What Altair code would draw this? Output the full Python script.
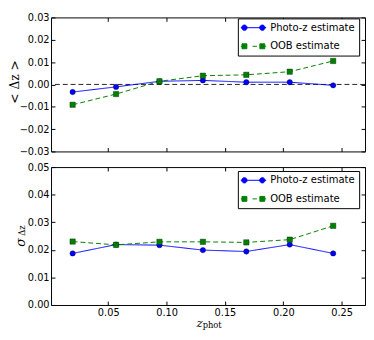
import altair as alt
import pandas as pd

# ---------------- data ----------------
z_phot = [0.0195, 0.0567, 0.0939, 0.1311, 0.1683, 0.2055, 0.2427]
series_names = ["Photo-z estimate", "OOB estimate"]
mean_photoz = [-0.0034, -0.0011, 0.0014, 0.0018, 0.0010, 0.0010, -0.0004]
mean_oob = [-0.0091, -0.0043, 0.0014, 0.0039, 0.0043, 0.0057, 0.0105]
sigma_photoz = [0.0187, 0.0219, 0.0217, 0.0199, 0.0194, 0.0219, 0.0187]
sigma_oob = [0.0230, 0.0218, 0.0229, 0.0229, 0.0227, 0.0237, 0.0287]
zero_level = [0.0]
x_ticks = [0.05, 0.10, 0.15, 0.20, 0.25]
mean_ticks = [-0.03, -0.02, -0.01, 0.0, 0.01, 0.02, 0.03]
sigma_ticks = [0.0, 0.01, 0.02, 0.03, 0.04, 0.05]
series_colors = ["#0000ff", "#008000"]

X_DOMAIN = [0.001, 0.27]
W = 321

# legend symbols: line with two markers (symbol scale = sqrt(100)/2 = 5 px/unit)
def circ(cx, r):
    return f"M{cx - r:.2f},0A{r:.2f},{r:.2f} 0 1,0 {cx + r:.2f},0A{r:.2f},{r:.2f} 0 1,0 {cx - r:.2f},0Z"

def sq(cx, r):
    return f"M{cx - r:.2f},{-r:.2f}H{cx + r:.2f}V{r:.2f}H{cx - r:.2f}Z"

def seg(a, b):
    return f"M{a:.2f},0H{b:.2f}"

PATH_PHOTO = seg(-1.3, 3.9) + circ(-0.56, 0.54) + circ(3.1, 0.54)
PATH_OOB = seg(-1.3, -0.1) + seg(1.1, 2.0) + seg(3.1, 3.9) + sq(-0.56, 0.5) + sq(3.1, 0.5)


def long_frame(a, b):
    rows = []
    for name, vals in zip(series_names, [a, b]):
        for z, v in zip(z_phot, vals):
            rows.append({"z": z, "value": v, "series": name})
    return pd.DataFrame(rows)


def panel(df, ydom, yticks, height, show_xlabels, legend_y, extras):
    xs = alt.Scale(domain=X_DOMAIN, nice=False, zero=False)
    ys = alt.Scale(domain=ydom, nice=False, zero=False)
    x_axis = alt.Axis(values=x_ticks, format=".2f", labels=show_xlabels, title=None,
                      offset=-4, tickSize=4, domain=False, grid=False, labelPadding=3)
    y_axis = alt.Axis(values=yticks, format=".2f", title=None, offset=-4, tickSize=4,
                      domain=False, grid=False, labelPadding=2)
    X = alt.X("z:Q", scale=xs, axis=x_axis)
    Y = alt.Y("value:Q", scale=ys, axis=y_axis)
    color = alt.Color("series:N", scale=alt.Scale(domain=series_names, range=series_colors),
                      legend=None)
    base = alt.Chart(df)
    lines = base.mark_line(strokeWidth=1).encode(
        x=X, y=Y, color=color,
        strokeDash=alt.StrokeDash("series:N",
                                  scale=alt.Scale(domain=series_names, range=[[1, 0], [5, 3]]),
                                  legend=None),
    )
    circles = base.transform_filter(alt.datum.series == series_names[0]).mark_point(
        shape="circle", filled=True, size=30, stroke="#000033", strokeWidth=0.4, opacity=1
    ).encode(x=X, y=Y, color=color)
    squares = base.transform_filter(alt.datum.series == series_names[1]).mark_point(
        shape="square", filled=True, size=30, stroke="#002200", strokeWidth=0.4, opacity=1
    ).encode(x=X, y=Y, color=color)

    leg = alt.Legend(title=None, orient="none", legendX=191, legendY=legend_y,
                     fillColor="white", strokeColor="black", padding=4, symbolSize=100,
                     labelOffset=18, rowPadding=8, labelFont="DejaVu Sans",
                     labelFontSize=10.2, labelColor="black", symbolStrokeWidth=1,
                     symbolOpacity=1)
    legend_layer = base.mark_point(filled=True, size=0, strokeWidth=1, opacity=1).encode(
        fill=alt.Fill("series:N", scale=alt.Scale(domain=series_names, range=series_colors), legend=leg),
        stroke=alt.Stroke("series:N", scale=alt.Scale(domain=series_names, range=series_colors), legend=leg),
        shape=alt.Shape("series:N", scale=alt.Scale(domain=series_names, range=[PATH_PHOTO, PATH_OOB]), legend=leg),
    )

    frame = base.mark_point(size=0, opacity=0).encode(
        x=alt.X("z:Q", scale=xs, axis=alt.Axis(orient="top", values=x_ticks, labels=False, title=None,
                                              offset=-4, tickSize=4, domain=False, grid=False)),
        y=alt.Y("value:Q", scale=ys, axis=alt.Axis(orient="right", values=yticks, labels=False, title=None,
                                                  offset=-4, tickSize=4, domain=False, grid=False)),
    )

    data_layer = alt.layer(*extras, lines, circles, squares)
    return alt.layer(data_layer, frame, legend_layer).resolve_axis(
        x="independent", y="independent"
    ).properties(width=W, height=height)


mean_df = long_frame(mean_photoz, mean_oob)
sigma_df = long_frame(sigma_photoz, sigma_oob)

zero_rule = alt.Chart(pd.DataFrame({"y0": zero_level})).mark_rule(
    color="#222222", strokeWidth=1, strokeDash=[5, 3]
).encode(y=alt.Y("y0:Q", scale=alt.Scale(domain=[-0.03, 0.03], nice=False, zero=False),
                 axis=alt.Axis(values=mean_ticks, format=".2f", title=None, offset=-4, tickSize=4,
                               domain=False, grid=False, labelPadding=2)))

top_title = alt.Chart(pd.DataFrame({"t": ["< Δz >"]})).mark_text(
    font="DejaVu Serif", fontSize=12.5, angle=270, align="center", baseline="middle", color="black"
).encode(x=alt.value(-37), y=alt.value(66), text="t:N")

sig_main = alt.Chart(pd.DataFrame({"t": ["σ"]})).mark_text(
    font="DejaVu Serif", fontSize=13, fontStyle="italic", angle=270, align="center",
    baseline="middle", color="black"
).encode(x=alt.value(-31), y=alt.value(77), text="t:N")
sig_sub = alt.Chart(pd.DataFrame({"t": ["Δz"]})).mark_text(
    font="DejaVu Serif", fontSize=8.5, angle=270, align="center", baseline="middle", color="black"
).encode(x=alt.value(-30), y=alt.value(65), text="t:N")

x_main = alt.Chart(pd.DataFrame({"t": ["z"]})).mark_text(
    font="DejaVu Serif", fontSize=12, fontStyle="italic", align="center", baseline="alphabetic",
    color="black"
).encode(x=alt.value(152), y=alt.value(163), text="t:N")
x_sub = alt.Chart(pd.DataFrame({"t": ["phot"]})).mark_text(
    font="DejaVu Serif", fontSize=8.5, align="left", baseline="alphabetic", color="black"
).encode(x=alt.value(155), y=alt.value(165), text="t:N")

top = panel(mean_df, [-0.03, 0.03], mean_ticks, 137, False, 1, [zero_rule, top_title])
bottom = panel(sigma_df, [0.0, 0.05], sigma_ticks, 141, True, 4, [sig_main, sig_sub, x_main, x_sub])

chart = alt.vconcat(top, bottom, spacing=4).resolve_scale(
    fill="independent", stroke="independent", shape="independent"
).resolve_legend(
    fill="independent", stroke="independent", shape="independent"
).properties(padding=0).configure_view(
    stroke="black", strokeWidth=1
).configure_axis(
    labelFont="DejaVu Sans", labelFontSize=10, labelColor="black", tickColor="black", tickWidth=1
)

chart.save("out.html", embed_options={"renderer": "svg", "actions": False})
